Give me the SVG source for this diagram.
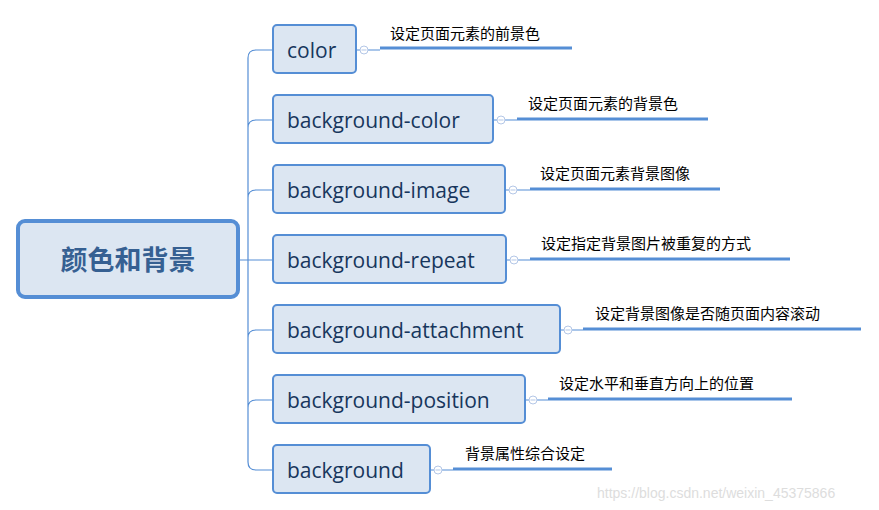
<svg xmlns="http://www.w3.org/2000/svg" width="879" height="510" viewBox="0 0 879 510">
<style>
.n rect{fill:#dce6f2;stroke:#558ed5;stroke-width:2}
.n text{font-family:"Open Sans","Liberation Sans",sans-serif;font-size:21px;fill:#17365d}
.c{fill:none;stroke:#558ed5;stroke-width:1.2}
.u{stroke:#558ed5;stroke-width:3}
.k{fill:#fff;stroke:#b4c7e7;stroke-width:1}
.l{font-family:"Noto Sans CJK SC",sans-serif;font-size:15px;fill:#000}
</style>
<rect width="879" height="510" fill="#fff"/>
<g id="connectors">
<path class="c" d="M238 260H273 M273 50H256Q248 50 248 58V462Q248 470 256 470H273 M248 128Q248 120 256 120H273 M248 198Q248 190 256 190H273 M248 338Q248 330 256 330H273 M248 408Q248 400 256 400H273"/>
<path class="c" d="M356 50H380 M493 120H517 M505 190H530 M506 260H530 M560 330H583 M525 400H548 M430 470H453"/>
<g class="u"><line x1="380" y1="48" x2="572" y2="48"/><line x1="517" y1="119" x2="708" y2="119"/><line x1="530" y1="189" x2="720" y2="189"/><line x1="530" y1="259" x2="790" y2="259"/><line x1="583" y1="329" x2="861" y2="329"/><line x1="548" y1="399" x2="792" y2="399"/><line x1="453" y1="469" x2="612" y2="469"/></g>
<g class="k"><circle cx="364" cy="50" r="4"/><circle cx="501" cy="120" r="4"/><circle cx="513" cy="190" r="4"/><circle cx="514" cy="260" r="4"/><circle cx="568" cy="330" r="4"/><circle cx="533" cy="400" r="4"/><circle cx="438" cy="470" r="4"/></g>
<g fill="#b4c7e7"><rect x="361.5" y="49.5" width="5" height="1"/><rect x="498.5" y="119.5" width="5" height="1"/><rect x="510.5" y="189.5" width="5" height="1"/><rect x="511.5" y="259.5" width="5" height="1"/><rect x="565.5" y="329.5" width="5" height="1"/><rect x="530.5" y="399.5" width="5" height="1"/><rect x="435.5" y="469.5" width="5" height="1"/></g>
</g>
<g id="root"><rect x="18" y="221" width="220" height="76" rx="7" fill="#dce6f2" stroke="#558ed5" stroke-width="4"/><text x="128" y="270" text-anchor="middle" font-family="Noto Sans CJK SC,sans-serif" font-size="27" font-weight="bold" fill="#366092">颜色和背景</text></g>
<g id="n1" class="n"><rect x="273" y="25" width="83" height="48" rx="4"/><text x="287" y="58">color</text></g>
<g id="n2" class="n"><rect x="273" y="95" width="220" height="48" rx="4"/><text x="287" y="128">background-color</text></g>
<g id="n3" class="n"><rect x="273" y="165" width="232" height="48" rx="4"/><text x="287" y="198">background-image</text></g>
<g id="n4" class="n"><rect x="273" y="235" width="233" height="48" rx="4"/><text x="287" y="268">background-repeat</text></g>
<g id="n5" class="n"><rect x="273" y="305" width="287" height="48" rx="4"/><text x="287" y="338">background-attachment</text></g>
<g id="n6" class="n"><rect x="273" y="375" width="252" height="48" rx="4"/><text x="287" y="408">background-position</text></g>
<g id="n7" class="n"><rect x="273" y="445" width="157" height="48" rx="4"/><text x="287" y="478">background</text></g>
<g id="labels">
<text class="l" x="390" y="39">设定页面元素的前景色</text>
<text class="l" x="528" y="109">设定页面元素的背景色</text>
<text class="l" x="540" y="179">设定页面元素背景图像</text>
<text class="l" x="541" y="249">设定指定背景图片被重复的方式</text>
<text class="l" x="595" y="319">设定背景图像是否随页面内容滚动</text>
<text class="l" x="559" y="389">设定水平和垂直方向上的位置</text>
<text class="l" x="465" y="459">背景属性综合设定</text>
</g>
<text x="597" y="498" font-family="Liberation Sans,sans-serif" font-size="14" fill="#ddd">https://blog.csdn.net/weixin_45375866</text>
</svg>
